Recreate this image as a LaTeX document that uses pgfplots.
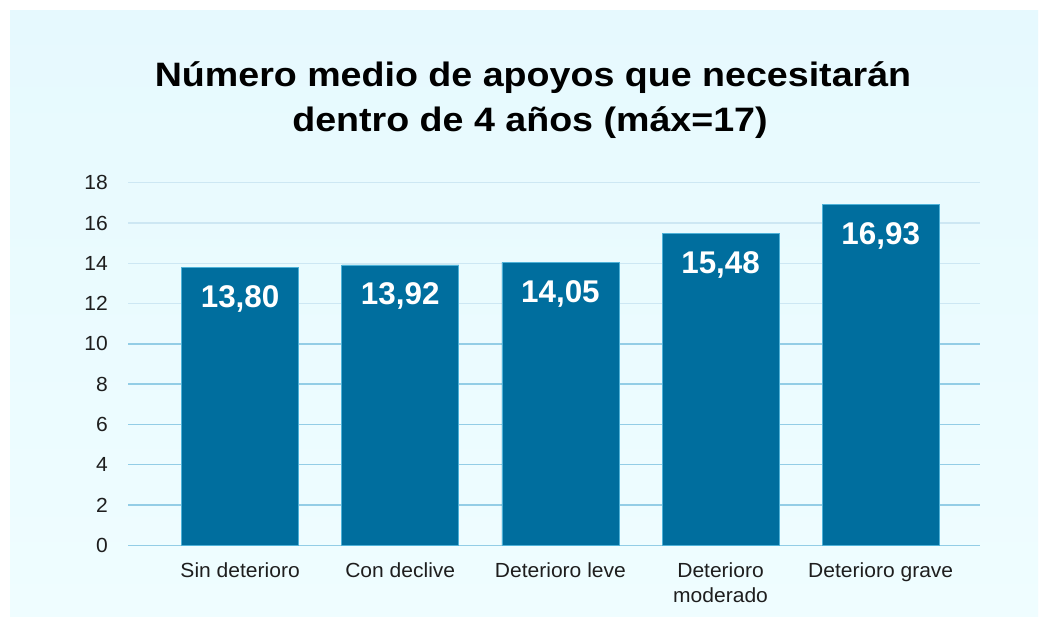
\documentclass[border=0pt]{standalone}
\usepackage{pgfplots}
\pgfplotsset{compat=1.18}
\usepackage{fontspec}
\setmainfont{Liberation Sans}
\newfontfamily\titlefont[FakeStretch=1.11]{Liberation Sans}
\newfontfamily\tickfont[FakeStretch=1.03]{Liberation Sans}
\definecolor{bgtop}{HTML}{E6F9FE}
\definecolor{bgbot}{HTML}{EFFDFF}
\definecolor{barfill}{HTML}{006E9E}
\definecolor{barline}{HTML}{4FB2D8}
\definecolor{gridpale}{HTML}{CDE7F3}
\definecolor{gridblue}{HTML}{93CDE6}
\definecolor{ticktext}{HTML}{1E1E1E}
\begin{document}
\begin{tikzpicture}[x=1bp,y=1bp]
\fill[white] (0,0) rectangle (1039,617);
\shade[top color=bgtop, bottom color=bgbot] (10,0) rectangle (1038,606);
\node[anchor=base, inner sep=0pt, font=\titlefont\fontsize{34}{40}\selectfont\bfseries] at (533,530.3) {Número medio de apoyos que necesitarán};
\node[anchor=base, inner sep=0pt, font=\titlefont\fontsize{34}{40}\selectfont\bfseries] at (530,485.3) {dentro de 4 años (máx=17)};
\begin{axis}[
  at={(128bp,71.6bp)}, anchor=south west, scale only axis,
  width=852bp, height=362.7bp,
  xmin=-0.7, xmax=4.62, ymin=0, ymax=18,
  axis line style={draw=none},
  ytick={12,14,16,18},
  extra y ticks={0,2,4,6,8,10},
  extra y tick style={grid style={gridblue, line width=1.4bp}},
  ymajorgrids, grid style={gridpale, line width=1.4bp},
  major tick length=0pt,
  xtick={0,1,2,3,4},
  xticklabels={Sin deterioro, Con declive, Deterioro leve, {Deterioro\\moderado}, Deterioro grave},
  /pgf/number format/assume math mode=true,
  yticklabel style={inner sep=0pt, anchor=east, xshift=-20bp, font=\tickfont\fontsize{20.5}{24}\selectfont, text=ticktext},
  xticklabel style={inner sep=0pt, anchor=north, yshift=-17.5bp, align=center, font=\tickfont\fontsize{20.5}{25}\selectfont, text=ticktext},
  clip=false,
]
\addplot[ybar, bar width=117bp, fill=barfill, draw=barline, line width=0.8bp,
  nodes near coords={\pgfmathprintnumber[fixed, fixed zerofill, precision=2, use comma, assume math mode=true]{\pgfplotspointmeta}},
  every node near coord/.append style={anchor=base, yshift=-40bp, text=white, font=\fontsize{31.5}{37}\selectfont\bfseries, inner sep=0pt},
  point meta=y]
coordinates {(0,13.80) (1,13.92) (2,14.05) (3,15.48) (4,16.93)};
\end{axis}
\end{tikzpicture}
\end{document}
